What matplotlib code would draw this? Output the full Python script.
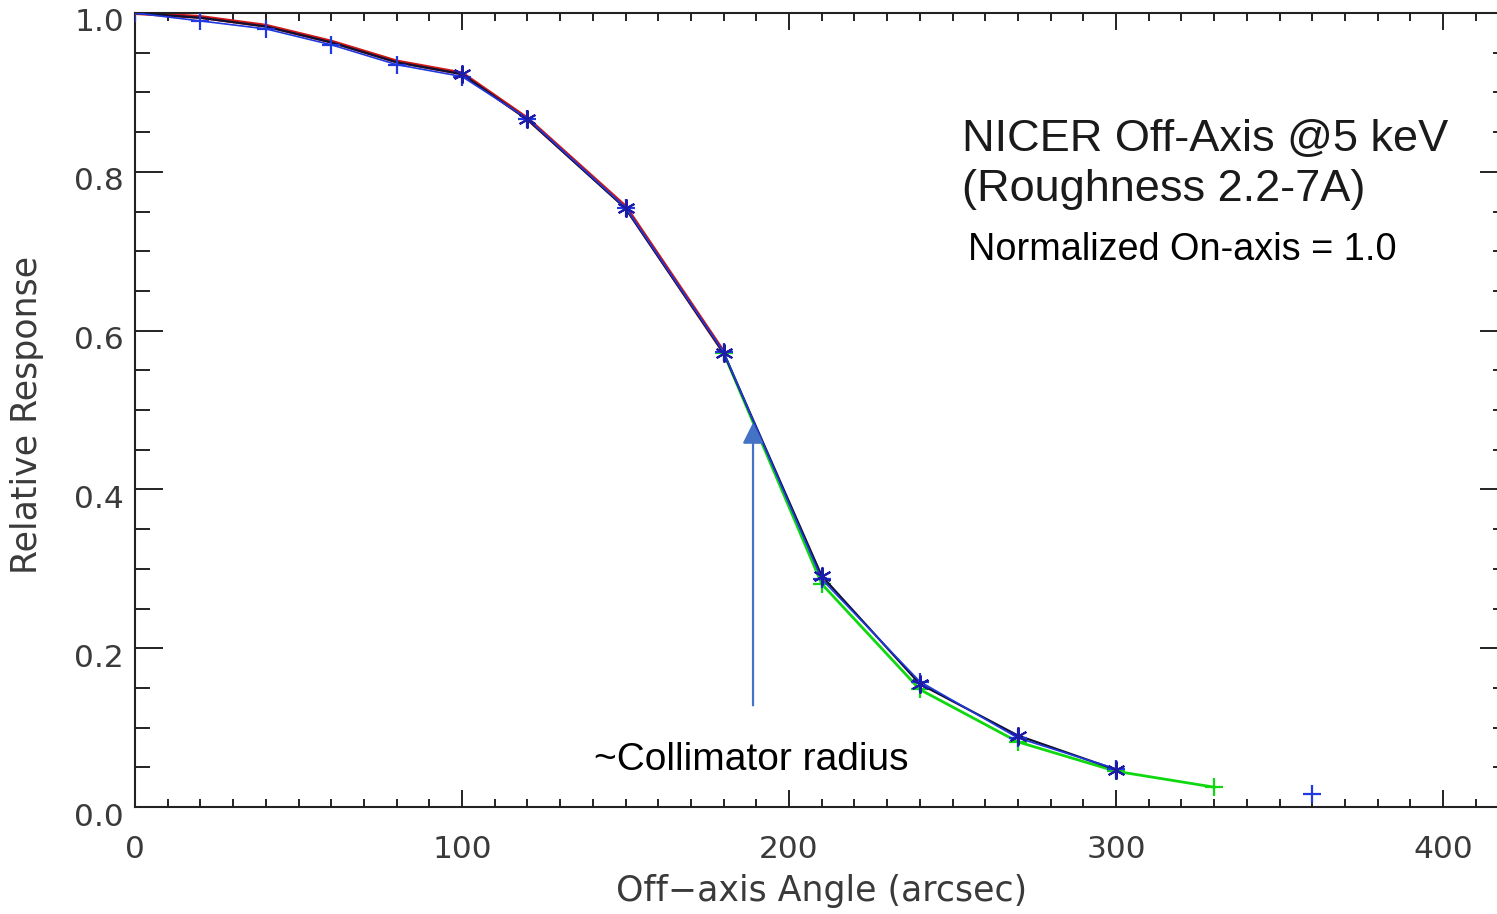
import matplotlib
matplotlib.use("Agg")
import matplotlib.pyplot as plt
from matplotlib.ticker import MultipleLocator
from matplotlib.transforms import ScaledTranslation

# off-axis angle grid (arcsec) and relative response curves
angle = [0, 20, 40, 60, 80, 100, 120, 150, 180, 210, 240, 270, 300]
resp_black = [1.0, 0.994, 0.983, 0.963, 0.938, 0.923, 0.866, 0.754, 0.572, 0.291, 0.155, 0.090, 0.047]
resp_blue = [1.0, 0.990, 0.980, 0.960, 0.935, 0.920, 0.867, 0.755, 0.573, 0.287, 0.158, 0.087, 0.048]

angle_red = [0, 20, 40, 60, 80, 100, 120, 150, 180]
resp_red = [1.0, 0.995, 0.984, 0.964, 0.939, 0.924, 0.867, 0.756, 0.573]

angle_green = [180, 210, 240, 270, 300, 330]
resp_green = [0.572, 0.281, 0.148, 0.082, 0.045, 0.025]

angle_extra = [360]
resp_extra = [0.016]

collimator_angle = 189
arrow_from, arrow_to = 0.128, 0.484

W, H = 1497, 914
fig = plt.figure(figsize=(W / 100, H / 100), dpi=100)
ax = fig.add_axes([135 / W, (H - 807) / H, 1373.4 / W, 794 / H])

ax.plot(angle_red, resp_red, color="#d01818", lw=2.8, zorder=2)
ax.plot(angle_green, resp_green, color="#10d810", lw=2.0, marker="+",
        ms=13, mew=1.6, zorder=2)
ax.plot(angle, resp_black, color="#101030", lw=1.6, zorder=3)
ax.plot(angle[5:], resp_black[5:], ls="none", marker=(6, 2, 0), ms=13,
        mew=1.5, color="#1c1ca8", zorder=4)
ax.plot(angle, resp_blue, color="#2038e0", lw=1.2, marker="+", ms=13,
        mew=1.6, zorder=3)
ax.plot(angle_extra, resp_extra, ls="none", color="#2038e0", marker="+",
        ms=13, mew=1.6)

ax.annotate("", xy=(collimator_angle, arrow_to), xytext=(collimator_angle, arrow_from),
            arrowprops=dict(arrowstyle="-|>,head_length=0.7,head_width=0.35",
                            color="#4472c4", lw=1.6, mutation_scale=18,
                            shrinkA=0, shrinkB=0), zorder=5)

ax.set_xlim(0, 420)
ax.set_ylim(0, 1.0)
ax.xaxis.set_major_locator(MultipleLocator(100))
ax.xaxis.set_minor_locator(MultipleLocator(10))
ax.yaxis.set_major_locator(MultipleLocator(0.2))
ax.yaxis.set_minor_locator(MultipleLocator(0.05))
ax.xaxis.set_major_formatter(plt.FuncFormatter(lambda v, p: f"{v:.0f}"))
ax.yaxis.set_major_formatter(plt.FuncFormatter(lambda v, p: f"{v:.1f}"))

for s in ax.spines.values():
    s.set_linewidth(1.5)
    s.set_color("#222222")
ax.tick_params(which="both", direction="in", top=True, right=True,
               colors="#222222", labelcolor="#3a3a3a", labelsize=22.5)
ax.tick_params(axis="x", which="major", length=12, width=1.4, pad=20)
ax.tick_params(axis="x", which="minor", length=6, width=1.4)
ax.tick_params(axis="y", which="major", length=20, width=1.4, pad=8)
ax.tick_params(axis="y", which="minor", length=11, width=1.4)

# y tick labels sit a little below their ticks
shift = ScaledTranslation(0, -7 / 100, fig.dpi_scale_trans)
for lbl in ax.get_yticklabels():
    lbl.set_transform(lbl.get_transform() + shift)

fig.text(27 / W, 1 - 415 / H, "Relative Response", rotation=90, fontsize=25,
         color="#3a3a3a", ha="center", va="center")
fig.text(822 / W, 1 - 891 / H, "Off\u2212axis Angle (arcsec)", fontsize=25,
         color="#3a3a3a", ha="center", va="center")

sans = "Liberation Sans"
fig.text(962 / W, 1 - 151 / H, "NICER Off-Axis @5 keV", family=sans,
         fontsize=32.5, color="#1a1a1a", va="baseline")
fig.text(962 / W, 1 - 201 / H, "(Roughness 2.2-7A)", family=sans,
         fontsize=32.5, color="#1a1a1a", va="baseline")
fig.text(968 / W, 1 - 260 / H, "Normalized On-axis = 1.0", family=sans,
         fontsize=27.3, color="black", va="baseline")
fig.text(751 / W, 1 - 770 / H, "~Collimator radius", family=sans,
         fontsize=28, color="black", ha="center", va="baseline")

fig.savefig("out.png", dpi=100)
